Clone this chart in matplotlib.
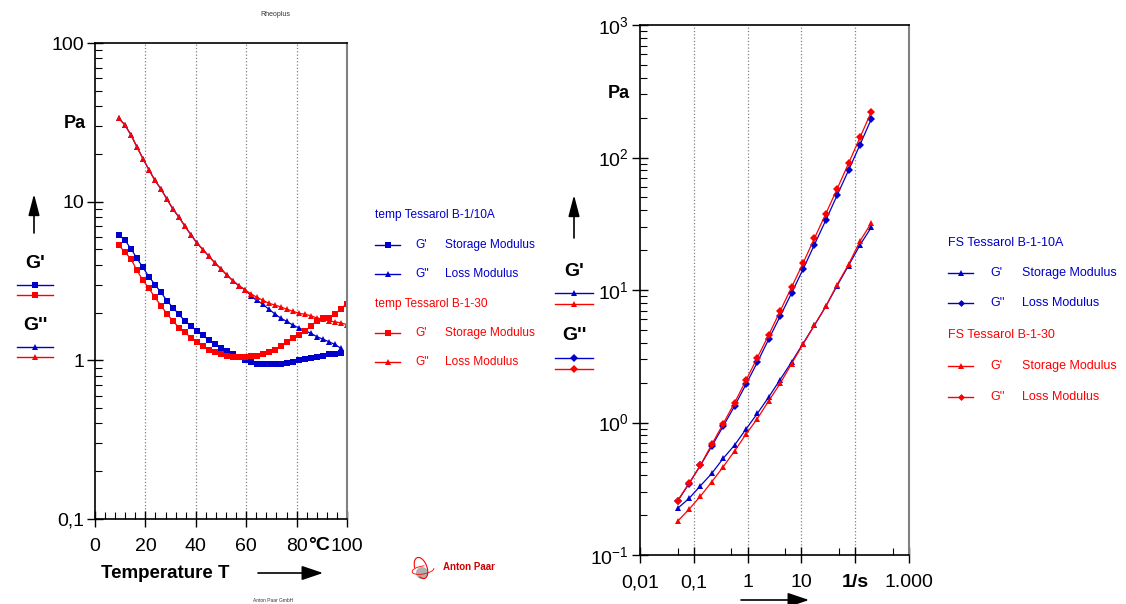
import numpy as np
import matplotlib
matplotlib.use('Agg')
import matplotlib.pyplot as plt
from matplotlib.ticker import FixedLocator, NullFormatter, LogLocator
from matplotlib.patches import Circle, Arc

plt.rcParams['font.family'] = ['Liberation Sans', 'DejaVu Sans']

BLUE = '#0000CC'
RED = '#FF0000'
GRID = '#808080'

# ---- temperature sweep (left) ----
temp = [9.5, 11.9, 14.3, 16.6, 19.0, 21.4, 23.8, 26.2, 28.5, 30.9, 33.3, 35.7, 38.1,
        40.4, 42.8, 45.2, 47.6, 50.0, 52.3, 54.7, 57.1, 59.5, 61.9, 64.2, 66.6, 69.0,
        71.4, 73.8, 76.1, 78.5, 80.9, 83.3, 85.7, 88.0, 90.4, 92.8, 95.2, 97.6, 100.0]

gp_10a = [6.2, 5.7, 5.05, 4.4, 3.85, 3.37, 3.0, 2.68, 2.38, 2.15, 1.95, 1.77, 1.65,
          1.53, 1.44, 1.34, 1.26, 1.20, 1.15, 1.10, 1.05, 1.00, 0.975, 0.955, 0.95,
          0.95, 0.95, 0.955, 0.965, 0.975, 1.0, 1.02, 1.04, 1.05, 1.07, 1.09, 1.10, 1.11]
gpp_10a = [33.5, 30.4, 26.3, 22.2, 18.7, 15.9, 13.6, 12.0, 10.4, 9.0, 8.0, 7.0, 6.18,
           5.5, 4.99, 4.53, 4.11, 3.77, 3.45, 3.18, 2.95, 2.79, 2.55, 2.40, 2.25, 2.10,
           1.96, 1.84, 1.76, 1.67, 1.60, 1.54, 1.48, 1.41, 1.36, 1.31, 1.26, 1.19]
gp_30 = [5.3, 4.8, 4.35, 3.7, 3.2, 2.84, 2.49, 2.21, 1.97, 1.77, 1.61, 1.50, 1.39,
         1.31, 1.23, 1.17, 1.13, 1.09, 1.065, 1.05, 1.05, 1.05, 1.065, 1.07, 1.09, 1.13,
         1.17, 1.23, 1.31, 1.39, 1.45, 1.53, 1.65, 1.78, 1.84, 1.84, 1.95, 2.12, 2.28]
gpp_30 = [33.5, 30.4, 26.3, 22.2, 18.7, 15.9, 13.6, 12.0, 10.4, 9.0, 8.0, 7.0, 6.18,
          5.5, 4.99, 4.53, 4.11, 3.77, 3.45, 3.18, 2.95, 2.79, 2.62, 2.50, 2.39, 2.29,
          2.23, 2.17, 2.10, 2.04, 1.98, 1.95, 1.91, 1.85, 1.82, 1.77, 1.75, 1.72, 1.68]

# ---- frequency sweep (right) ----
freq = [0.05, 0.0814, 0.133, 0.216, 0.352, 0.573, 0.933, 1.52, 2.48, 4.03, 6.57,
        10.7, 17.4, 28.4, 46.2, 75.3, 123, 200]
fs_gp_10a = [0.225, 0.267, 0.333, 0.413, 0.536, 0.675, 0.891, 1.17, 1.56, 2.11, 2.86,
             3.94, 5.41, 7.52, 10.8, 15.3, 21.9, 29.8]
fs_gpp_10a = [0.255, 0.345, 0.475, 0.663, 0.938, 1.33, 1.94, 2.85, 4.27, 6.33, 9.48,
              14.3, 21.9, 33.6, 51.9, 80.1, 125, 196]
fs_gp_30 = [0.180, 0.221, 0.278, 0.357, 0.463, 0.610, 0.816, 1.07, 1.46, 1.97, 2.78,
            3.89, 5.41, 7.52, 11.0, 15.6, 23.4, 32.2]
fs_gpp_30 = [0.257, 0.347, 0.477, 0.683, 0.98, 1.41, 2.08, 3.09, 4.60, 6.93, 10.5,
             15.9, 24.5, 37.6, 58.0, 90.4, 142, 222]

left_yticks = [0.1, 1, 10, 100]
left_ylabels = ['0,1', '1', '10', '100']
left_xticks = [0, 20, 40, 60, 80, 100]
left_xlabels = ['0', '20', '40', '60', '80', '100']
right_xticks = [0.01, 0.1, 1, 10, 100, 1000]
right_xlabels = ['0,01', '0,1', '1', '10', '1/s', '1.000']
right_yticks = [0.1, 1, 10, 100, 1000]
right_ylabels = [r'$\mathregular{10^{-1}}$', r'$\mathregular{10^{0}}$',
                 r'$\mathregular{10^{1}}$', r'$\mathregular{10^{2}}$',
                 r'$\mathregular{10^{3}}$']

W, H = 1126, 604
TICK_FS = 14
fig = plt.figure(figsize=(W / 100, H / 100), dpi=100)

# ================= left plot =================
ax1 = fig.add_axes([95 / W, (H - 519) / H, 252 / W, 476 / H])
ax1.set_yscale('log')
ax1.set_xlim(0, 100)
ax1.set_ylim(0.1, 100)
for x in [20, 40, 60, 80]:
    ax1.axvline(x, color=GRID, ls=':', lw=0.9, zorder=0)

kw = dict(lw=0.9, ms=5, mew=0)
ax1.plot(temp[:38], gp_10a, color=BLUE, marker='s', **kw)
ax1.plot(temp[:38], gpp_10a, color=BLUE, marker='^', **kw)
ax1.plot(temp, gp_30, color=RED, marker='s', **kw)
ax1.plot(temp, gpp_30, color=RED, marker='^', **kw)

ax1.xaxis.set_major_locator(FixedLocator(left_xticks))
ax1.set_xticklabels(left_xlabels)
ax1.xaxis.set_minor_locator(FixedLocator([x for x in range(0, 101, 4) if x % 20]))
ax1.yaxis.set_major_locator(FixedLocator(left_yticks))
ax1.set_yticklabels(left_ylabels)
ax1.yaxis.set_minor_locator(LogLocator(base=10, subs=np.arange(2, 10)))
ax1.yaxis.set_minor_formatter(NullFormatter())
ax1.tick_params(which='major', direction='inout', length=12, width=1, labelsize=TICK_FS, pad=2)
ax1.tick_params(axis='x', which='major', pad=8)
ax1.tick_params(which='minor', direction='in', length=5, width=0.8)
for s in ['left', 'bottom', 'top']:
    ax1.spines[s].set_linewidth(1.2)
ax1.spines['right'].set_color(GRID)
ax1.spines['right'].set_linewidth(1.5)

# ================= right plot =================
ax2 = fig.add_axes([640 / W, (H - 555) / H, 269 / W, 530 / H])
ax2.set_xscale('log')
ax2.set_yscale('log')
ax2.set_xlim(0.01, 1000)
ax2.set_ylim(0.1, 1000)
for x in [0.1, 1, 10, 100]:
    ax2.axvline(x, color=GRID, ls=':', lw=0.9, zorder=0)

kw2 = dict(lw=0.9, mew=0)
ax2.plot(freq, fs_gp_10a, color=BLUE, marker='^', ms=5, **kw2)
ax2.plot(freq, fs_gpp_10a, color=BLUE, marker='D', ms=3.8, **kw2)
ax2.plot(freq, fs_gp_30, color=RED, marker='^', ms=5, **kw2)
ax2.plot(freq, fs_gpp_30, color=RED, marker='D', ms=3.8, **kw2)

ax2.xaxis.set_major_locator(FixedLocator(right_xticks))
ax2.set_xticklabels(right_xlabels)
ax2.get_xticklabels()[4].set_fontweight('bold')
ax2.xaxis.set_minor_locator(LogLocator(base=10, subs=[5]))
ax2.xaxis.set_minor_formatter(NullFormatter())
ax2.yaxis.set_major_locator(FixedLocator(right_yticks))
ax2.set_yticklabels(right_ylabels)
ax2.yaxis.set_minor_locator(LogLocator(base=10, subs=np.arange(2, 10)))
ax2.yaxis.set_minor_formatter(NullFormatter())
ax2.tick_params(which='major', direction='inout', length=12, width=1, labelsize=TICK_FS, pad=2)
ax2.tick_params(axis='x', which='major', pad=8)
ax2.tick_params(which='minor', direction='in', length=5, width=0.8)
for s in ['left', 'bottom', 'top']:
    ax2.spines[s].set_linewidth(1.2)
ax2.spines['right'].set_color(GRID)
ax2.spines['right'].set_linewidth(1.5)

# ================= decorations (pixel overlay) =================
ov = fig.add_axes([0, 0, 1, 1], zorder=-1)
ov.set_xlim(0, W)
ov.set_ylim(H, 0)
ov.axis('off')

ov.text(275, 15, 'Rheoplus', fontsize=5, ha='center', va='center', color='#333333')
ov.text(273, 600, 'Anton Paar GmbH', fontsize=3.5, ha='center', va='center', color='#333333')

def up_arrow(x, y0, y1):
    ov.annotate('', xy=(x, y1), xytext=(x, y0),
                arrowprops=dict(arrowstyle='-|>,head_length=0.65,head_width=0.17',
                                color='black', lw=1.2, mutation_scale=20,
                                shrinkA=0, shrinkB=0))

def right_arrow(x0, x1, y):
    ov.annotate('', xy=(x1, y), xytext=(x0, y),
                arrowprops=dict(arrowstyle='-|>,head_length=0.65,head_width=0.22',
                                color='black', lw=1.2, mutation_scale=20,
                                shrinkA=0, shrinkB=0))

def sample(x0, x1, y, color, marker, ms):
    ov.plot([x0, x1], [y, y], color=color, lw=1)
    ov.plot([(x0 + x1) / 2], [y], color=color, marker=marker, ms=ms, mew=0)

bold = dict(fontweight='bold', ha='center', va='center')

# left y label block
ov.text(75, 124, 'Pa', fontsize=13, **bold)
up_arrow(34, 233, 194)
ov.text(35, 264, "G'", fontsize=14, **bold)
sample(17, 53, 285, BLUE, 's', 5)
sample(17, 53, 295, RED, 's', 5)
ov.text(35, 326, "G''", fontsize=14, **bold)
sample(17, 53, 347, BLUE, '^', 5)
sample(17, 53, 357, RED, '^', 5)

# left x label
ov.text(319, 545, '°C', fontsize=TICK_FS, **bold)
ov.text(165, 573, 'Temperature T', fontsize=13.5, **bold)
right_arrow(258, 323, 573)

# left legend
lg = dict(fontsize=8.6, va='center', ha='left')
ov.text(375, 215, 'temp Tessarol B-1/10A', color=BLUE, **lg)
sample(375, 400, 245, BLUE, 's', 4.5)
ov.text(415, 245, "G'", color=BLUE, **lg)
ov.text(445, 245, 'Storage Modulus', color=BLUE, **lg)
sample(375, 400, 274, BLUE, '^', 4.5)
ov.text(415, 274, "G''", color=BLUE, **lg)
ov.text(445, 274, 'Loss Modulus', color=BLUE, **lg)
ov.text(375, 304, 'temp Tessarol B-1-30', color=RED, **lg)
sample(375, 400, 333, RED, 's', 4.5)
ov.text(415, 333, "G'", color=RED, **lg)
ov.text(445, 333, 'Storage Modulus', color=RED, **lg)
sample(375, 400, 362, RED, '^', 4.5)
ov.text(415, 362, "G''", color=RED, **lg)
ov.text(445, 362, 'Loss Modulus', color=RED, **lg)

# right y label block
ov.text(619, 93, 'Pa', fontsize=13, **bold)
up_arrow(574, 238, 195)
ov.text(574, 271, "G'", fontsize=14, **bold)
sample(555, 593, 293, BLUE, '^', 5)
sample(555, 593, 304, RED, '^', 5)
ov.text(574, 336, "G''", fontsize=14, **bold)
sample(555, 593, 358, BLUE, 'D', 3.8)
sample(555, 593, 369, RED, 'D', 3.8)

right_arrow(741, 809, 600)

# right legend
lg2 = dict(lg, fontsize=9)
ov.text(948, 243, 'FS Tessarol B-1-10A', color=BLUE, **lg2)
sample(948, 973, 273, BLUE, '^', 4.5)
ov.text(990, 273, "G'", color=BLUE, **lg2)
ov.text(1022, 273, 'Storage Modulus', color=BLUE, **lg2)
sample(948, 973, 303, BLUE, 'D', 3.5)
ov.text(990, 303, "G''", color=BLUE, **lg2)
ov.text(1022, 303, 'Loss Modulus', color=BLUE, **lg2)
ov.text(948, 335, 'FS Tessarol B-1-30', color=RED, **lg2)
sample(948, 973, 366, RED, '^', 4.5)
ov.text(990, 366, "G'", color=RED, **lg2)
ov.text(1022, 366, 'Storage Modulus', color=RED, **lg2)
sample(948, 973, 397, RED, 'D', 3.5)
ov.text(990, 397, "G''", color=RED, **lg2)
ov.text(1022, 397, 'Loss Modulus', color=RED, **lg2)

# Anton Paar logo
ov.add_patch(Circle((422, 573), 6, color='#B0B0B0', lw=0))
ov.add_patch(Arc((421, 568), 12, 22, angle=-20, theta1=200, theta2=120, color=RED, lw=0.8))
ov.add_patch(Arc((423, 570), 22, 8, angle=-10, theta1=0, theta2=300, color=RED, lw=0.6))
ov.text(443, 567, 'Anton Paar', color='#D00000', fontsize=7, fontweight='bold',
        ha='left', va='center')

fig.savefig('out.png', dpi=100)
